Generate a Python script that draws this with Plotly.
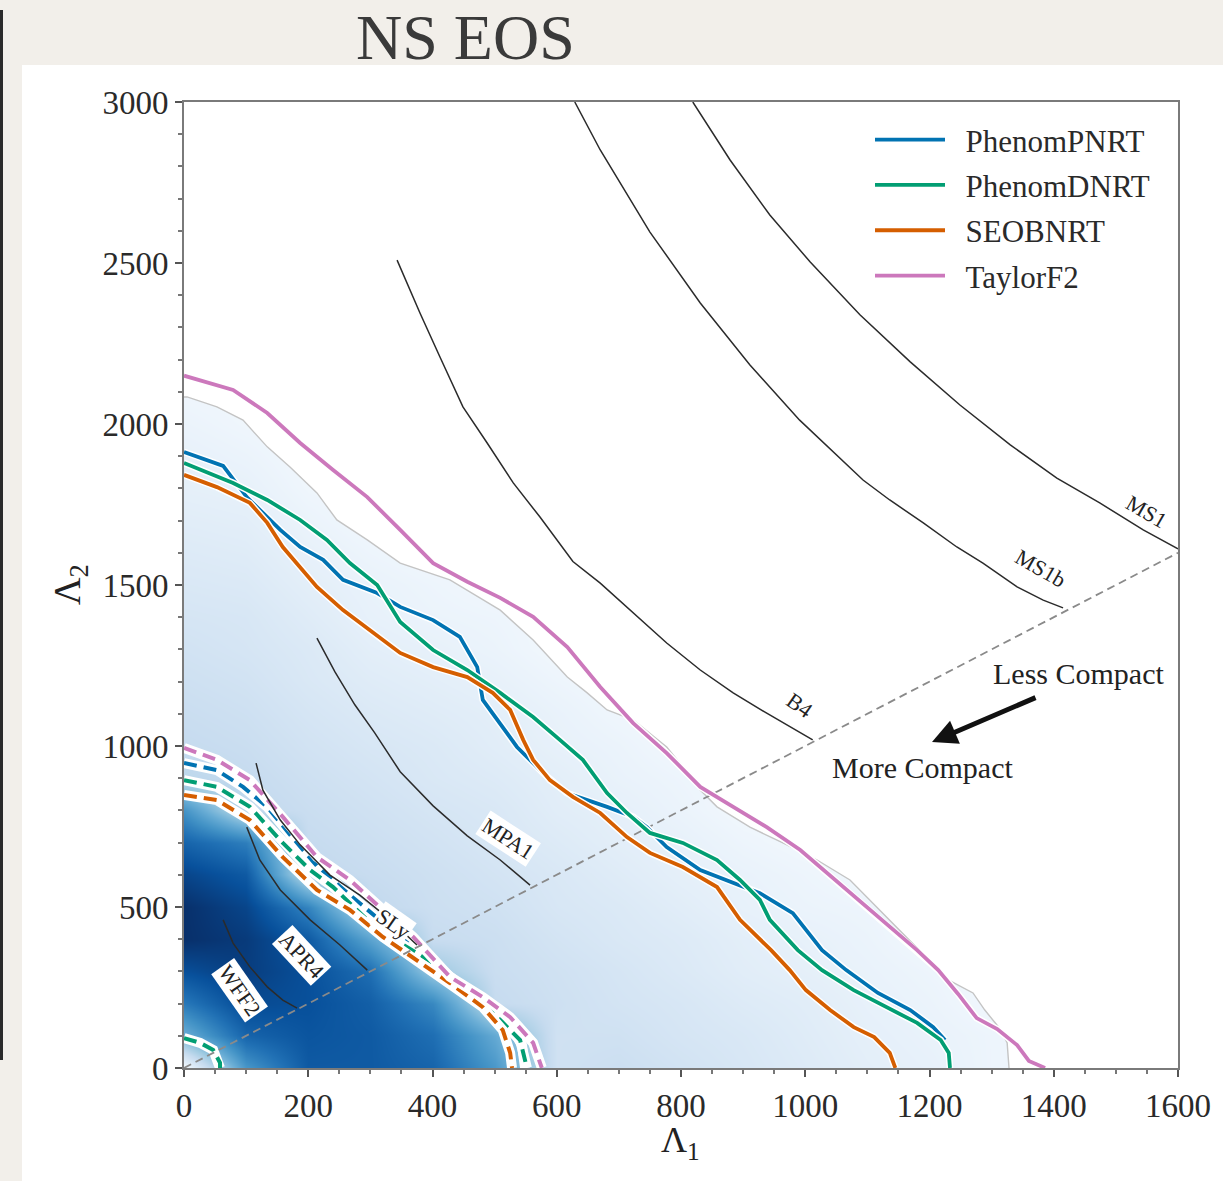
import plotly.graph_objects as go

# ---------------------------------------------------------------- data
# Density grid (posterior, arbitrary 0-100 scale) on Lambda1 x Lambda2
grid_l1 = [0, 100, 200, 300, 400, 500, 600, 700, 800, 900, 1000, 1100, 1200, 1300, 1400, 1500, 1600]
grid_l2 = [0, 100, 200, 300, 400, 500, 600, 700, 800, 900, 1000, 1100,
           1200, 1300, 1400, 1500, 1600, 1700, 1800, 1900, 2000, 2100, 2200]
density_rows = [
    [0, 60, 84, 84, 80, 60, 20, 22, 19, 16, 13, 10, 8, 5, 3, 3, 3],
    [50, 80, 86, 84, 76, 52, 20, 20, 17, 15, 12, 9, 7, 5, 3, 3, 3],
    [72, 90, 88, 82, 66, 25, 21, 18, 16, 13, 11, 8, 6, 3, 3, 3, 3],
    [88, 95, 88, 76, 38, 23, 20, 17, 14, 11, 9, 7, 5, 3, 3, 3, 3],
    [100, 96, 84, 55, 24, 22, 18, 15, 13, 10, 8, 6, 3, 3, 3, 3, 3],
    [100, 92, 68, 27, 22, 20, 16, 14, 11, 8, 6, 5, 3, 3, 3, 3, 3],
    [92, 84, 27, 24, 21, 18, 15, 12, 9, 7, 5, 3, 3, 3, 3, 3, 3],
    [80, 70, 25, 22, 19, 16, 13, 10, 8, 5, 3, 3, 3, 3, 3, 3, 3],
    [62, 27, 23, 20, 17, 15, 11, 9, 6, 3, 3, 3, 3, 3, 3, 3, 3],
    [28, 25, 21, 18, 15, 13, 10, 7, 5, 3, 3, 3, 3, 3, 3, 3, 3],
    [25, 23, 19, 16, 14, 11, 8, 6, 3, 3, 3, 3, 3, 3, 3, 3, 3],
    [23, 21, 17, 14, 12, 10, 7, 4, 3, 3, 3, 3, 3, 3, 3, 3, 3],
    [21, 19, 15, 12, 10, 8, 5, 3, 3, 3, 3, 3, 3, 3, 3, 3, 3],
    [19, 17, 14, 10, 8, 6, 3, 3, 3, 3, 3, 3, 3, 3, 3, 3, 3],
    [17, 16, 12, 8, 6, 5, 3, 3, 3, 3, 3, 3, 3, 3, 3, 3, 3],
    [15, 14, 10, 7, 5, 3, 3, 3, 3, 3, 3, 3, 3, 3, 3, 3, 3],
    [13, 12, 8, 5, 3, 3, 3, 3, 3, 3, 3, 3, 3, 3, 3, 3, 3],
    [11, 10, 6, 3, 3, 3, 3, 3, 3, 3, 3, 3, 3, 3, 3, 3, 3],
    [9, 8, 4, 3, 3, 3, 3, 3, 3, 3, 3, 3, 3, 3, 3, 3, 3],
    [8, 6, 3, 3, 3, 3, 3, 3, 3, 3, 3, 3, 3, 3, 3, 3, 3],
    [6, 4, 3, 3, 3, 3, 3, 3, 3, 3, 3, 3, 3, 3, 3, 3, 3],
    [4, 3, 3, 3, 3, 3, 3, 3, 3, 3, 3, 3, 3, 3, 3, 3, 3],
    [3, 3, 3, 3, 3, 3, 3, 3, 3, 3, 3, 3, 3, 3, 3, 3, 3],
]

# Outer edge of the shaded posterior support
support_l1 = [0, 5, 53, 95, 134, 171, 214, 246, 295, 348, 428, 509, 562, 617, 649, 681, 723,
              777, 803, 831, 858, 911, 964, 1019, 1072, 1231, 1270, 1289, 1315, 1325, 1328]
support_l2 = [2084, 2084, 2053, 2012, 1929, 1866, 1786, 1702, 1640, 1568, 1516, 1422, 1329, 1214,
              1165, 1112, 1081, 997, 935, 863, 811, 748, 699, 646, 584, 273, 233, 180, 118, 78, 0]

# 90% credible contours (solid)
pnrt90_l1 = [0, 63, 101, 155, 187, 224, 256, 311, 348, 401, 444, 472, 481, 536, 578, 616, 681,
             723, 745, 777, 831, 884, 927, 980, 1027, 1066, 1117, 1169, 1206, 1225]
pnrt90_l2 = [1913, 1870, 1773, 1671, 1618, 1578, 1516, 1475, 1432, 1391, 1339, 1245, 1143, 997,
             916, 854, 811, 780, 748, 686, 615, 575, 543, 481, 366, 304, 233, 180, 127, 87]
dnrt90_l1 = [0, 79, 134, 187, 230, 267, 311, 348, 401, 456, 509, 562, 605, 642, 681, 713, 750,
             803, 858, 895, 927, 943, 988, 1027, 1078, 1130, 1180, 1218, 1231, 1233]
dnrt90_l2 = [1879, 1817, 1764, 1702, 1640, 1568, 1500, 1385, 1298, 1236, 1165, 1090, 1019, 957,
             854, 792, 730, 699, 646, 584, 522, 460, 366, 304, 242, 189, 140, 87, 47, 0]
seob90_l1 = [0, 53, 106, 134, 159, 187, 214, 256, 299, 348, 401, 456, 497, 525, 546, 562, 589,
             626, 670, 713, 750, 803, 858, 895, 945, 975, 1001, 1040, 1078, 1111, 1136, 1145]
seob90_l2 = [1842, 1804, 1755, 1693, 1618, 1556, 1494, 1422, 1360, 1289, 1245, 1214, 1165, 1112,
             1019, 957, 894, 842, 792, 717, 668, 624, 562, 460, 366, 304, 242, 180, 127, 96, 47, 0]
tf2_90_l1 = [0, 79, 134, 187, 240, 295, 348, 401, 456, 509, 562, 617, 670, 723, 777, 831, 884,
             938, 992, 1072, 1180, 1214, 1246, 1276, 1309, 1341, 1360, 1386]
tf2_90_l2 = [2150, 2106, 2034, 1941, 1857, 1773, 1671, 1568, 1510, 1460, 1401, 1307, 1183, 1071,
             978, 873, 811, 748, 677, 543, 366, 304, 230, 155, 121, 71, 22, 0]

# 50% credible contours (dashed)
pnrt50_l1 = [0, 53, 95, 134, 171, 214, 267, 320, 369, 428, 481, 525, 544, 549]
pnrt50_l2 = [947, 925, 873, 811, 724, 627, 537, 453, 373, 273, 202, 134, 71, 0]
dnrt50_l1 = [0, 53, 106, 159, 203, 240, 295, 348, 401, 456, 509, 541, 552]
dnrt50_l2 = [894, 873, 811, 699, 615, 562, 460, 388, 326, 242, 149, 87, 0]
dnrt50b_l1 = [0, 26, 47, 58, 58]
dnrt50b_l2 = [93, 78, 56, 16, 0]
seob50_l1 = [0, 53, 106, 159, 214, 267, 320, 375, 428, 481, 513, 525, 528]
seob50_l2 = [848, 832, 770, 655, 553, 491, 407, 335, 264, 189, 118, 47, 0]
tf2_50_l1 = [0, 53, 106, 159, 214, 267, 320, 369, 428, 481, 525, 562, 576]
tf2_50_l2 = [994, 957, 894, 780, 655, 584, 491, 407, 283, 220, 158, 78, 0]

# Equation-of-state tracks
wff2_l1 = [63, 79, 106, 134, 159, 182]
wff2_l2 = [460, 388, 314, 252, 211, 186]
apr4_l1 = [101, 122, 155, 203, 251, 295]
apr4_l2 = [748, 646, 553, 460, 382, 304]
sly_l1 = [116, 127, 155, 187, 235, 283, 332, 375]
sly_l2 = [947, 863, 770, 693, 599, 537, 460, 382]
mpa1_l1 = [214, 243, 275, 307, 348, 401, 456, 509, 557]
mpa1_l2 = [1335, 1230, 1128, 1041, 920, 814, 721, 646, 568]
b4_l1 = [343, 380, 412, 449, 488, 530, 573, 626, 670, 723, 777, 831, 884, 938, 992, 1012]
b4_l2 = [2509, 2344, 2208, 2053, 1941, 1817, 1711, 1573, 1506, 1413, 1320, 1236, 1165, 1102, 1040, 1019]
ms1b_l1 = [629, 670, 750, 831, 911, 991, 1093, 1136, 1190, 1244, 1286, 1341, 1383, 1415]
ms1b_l2 = [3000, 2851, 2596, 2376, 2183, 2012, 1826, 1764, 1693, 1618, 1568, 1494, 1453, 1429]
ms1_l1 = [819, 879, 943, 1008, 1088, 1169, 1249, 1330, 1405, 1474, 1544, 1600]
ms1_l2 = [3000, 2820, 2649, 2503, 2339, 2193, 2059, 1935, 1832, 1755, 1671, 1612]

# Equal-mass line
equal_l1 = [0, 1600]
equal_l2 = [0, 1600]

x_ticks = [0, 200, 400, 600, 800, 1000, 1200, 1400, 1600]
y_ticks = [0, 500, 1000, 1500, 2000, 2500, 3000]

# ---------------------------------------------------------------- style
SERIF = "Liberation Serif"
INK = "#222222"
NBSP = "\u00a0"
BLUE, GREEN, ORANGE, PINK = "#0173b2", "#029e73", "#d55e00", "#cc78bc"
BLUES = [[0.0, "#f7fbff"], [0.125, "#deebf7"], [0.25, "#c6dbef"], [0.375, "#9ecae1"],
         [0.5, "#6baed6"], [0.625, "#4292c6"], [0.75, "#2171b5"], [0.875, "#08519c"],
         [1.0, "#08306b"]]

W, H = 1223, 1181
PX0, PX1, PY0, PY1 = 184, 1178, 102, 1068   # plot box in pixels

fig = go.Figure()

fig.add_trace(go.Heatmap(
    x=grid_l1, y=grid_l2, z=density_rows, zmin=0, zmax=100,
    colorscale=BLUES, zsmooth="best", showscale=False, hoverinfo="skip"))

# blank out everything beyond the support edge
fig.add_trace(go.Scatter(
    x=support_l1 + [1700, 1700, -50, -50], y=support_l2 + [-50, 3100, 3100, 2084],
    fill="toself", fillcolor="white", mode="lines", line=dict(width=0),
    showlegend=False, hoverinfo="skip"))
fig.add_trace(go.Scatter(
    x=support_l1, y=support_l2, mode="lines", line=dict(color="#c4c4c4", width=1.4),
    showlegend=False, hoverinfo="skip"))


def haloed(xs, ys, color, width, dash, halo, name=None):
    fig.add_trace(go.Scatter(x=xs, y=ys, mode="lines",
                             line=dict(color="white", width=width + halo),
                             showlegend=False, hoverinfo="skip"))
    fig.add_trace(go.Scatter(x=xs, y=ys, mode="lines",
                             name=None if name is None else NBSP * 2 + name,
                             line=dict(color=color, width=width, dash=dash),
                             showlegend=name is not None, legendgroup=name or "",
                             hoverinfo="skip"))


# 50% contours
haloed(pnrt50_l1, pnrt50_l2, BLUE, 4, "13px,7px", 6)
haloed(dnrt50_l1, dnrt50_l2, GREEN, 4, "13px,7px", 6)
haloed(dnrt50b_l1, dnrt50b_l2, GREEN, 4, "13px,7px", 6)
haloed(seob50_l1, seob50_l2, ORANGE, 4, "13px,7px", 6)
haloed(tf2_50_l1, tf2_50_l2, PINK, 4, "13px,7px", 6)

# EOS tracks and equal-mass line
for xs, ys in [(wff2_l1, wff2_l2), (apr4_l1, apr4_l2), (sly_l1, sly_l2), (mpa1_l1, mpa1_l2),
               (b4_l1, b4_l2), (ms1b_l1, ms1b_l2), (ms1_l1, ms1_l2)]:
    fig.add_trace(go.Scatter(x=xs, y=ys, mode="lines", line=dict(color="#2b2b2b", width=1.5),
                             showlegend=False, hoverinfo="skip"))
fig.add_trace(go.Scatter(x=equal_l1, y=equal_l2, mode="lines",
                         line=dict(color="#8a8a8a", width=1.8, dash="8px,5px"),
                         showlegend=False, hoverinfo="skip"))

# 90% contours
haloed(pnrt90_l1, pnrt90_l2, BLUE, 3.8, "solid", 3, "PhenomPNRT")
haloed(dnrt90_l1, dnrt90_l2, GREEN, 3.8, "solid", 3, "PhenomDNRT")
haloed(seob90_l1, seob90_l2, ORANGE, 3.8, "solid", 3, "SEOBNRT")
haloed(tf2_90_l1, tf2_90_l2, PINK, 3.8, "solid", 3, "TaylorF2")


def px_x(p):
    return (p - PX0) / (PX1 - PX0) * 1600


def px_y(p):
    return (PY1 - p) / (PY1 - PY0) * 3000


annotations = []
for text, px, py, ang in [("WFF2", 240, 990, 55), ("APR4", 302, 955, 47), ("SLy", 393, 923, 35),
                          ("MPA1", 508, 838, 33), ("B4", 800, 705, 35), ("MS1b", 1041, 568, 30),
                          ("MS1", 1146, 512, 30)]:
    annotations.append(dict(x=px_x(px), y=px_y(py), xref="x", yref="y", text=text,
                            textangle=ang, showarrow=False, bgcolor="white", borderpad=1,
                            xanchor="center", yanchor="middle",
                            font=dict(family=SERIF, size=22, color=INK)))

annotations += [
    dict(x=px_x(1078), y=px_y(673), xref="x", yref="y", text="Less Compact", showarrow=False,
         xanchor="center", yanchor="middle", font=dict(family=SERIF, size=30, color=INK)),
    dict(x=px_x(922), y=px_y(767), xref="x", yref="y", text="More Compact", showarrow=False,
         xanchor="center", yanchor="middle", font=dict(family=SERIF, size=30, color=INK)),
    dict(x=px_x(932), y=px_y(742), xref="x", yref="y", ax=px_x(1037), ay=px_y(697),
         axref="x", ayref="y", text="", showarrow=True, arrowhead=2, arrowsize=1,
         arrowwidth=5, arrowcolor="#111111"),
    dict(x=680 / W, y=1 - 1142 / H, xref="paper", yref="paper", text="Λ<sub>1</sub>",
         xanchor="center", yanchor="middle", showarrow=False,
         font=dict(family=SERIF, size=36, color=INK)),
    dict(x=70 / W, y=1 - 585 / H, xref="paper", yref="paper", text="Λ<sub>2</sub>",
         textangle=-90, xanchor="center", yanchor="middle", showarrow=False,
         font=dict(family=SERIF, size=38, color=INK)),
    dict(x=465 / W, y=1 - 38 / H, xref="paper", yref="paper", text="NS EOS",
         xanchor="center", yanchor="middle", showarrow=False,
         font=dict(family=SERIF, size=64, color="#3a3a3a")),
]

axis_common = dict(showline=True, linecolor="#7a7a7a", linewidth=2, mirror=True,
                   ticks="outside", ticklen=7, tickwidth=1.5, tickcolor="#555555",
                   showgrid=False, zeroline=False, automargin=False,
                   tickfont=dict(family=SERIF, size=33, color="#2a2a2a"))

fig.update_layout(
    width=W, height=H, autosize=False,
    margin=dict(l=0, r=0, t=0, b=0, pad=0),
    paper_bgcolor="#f2efea", plot_bgcolor="white",
    xaxis=dict(range=[0, 1600], domain=[PX0 / W, PX1 / W], tickvals=x_ticks,
               minor=dict(dtick=50, ticks="outside", ticklen=4, tickcolor="#777777"),
               **axis_common),
    yaxis=dict(range=[0, 3000], domain=[1 - PY1 / H, 1 - PY0 / H], tickvals=y_ticks,
               minor=dict(dtick=100, ticks="outside", ticklen=4, tickcolor="#777777"),
               **axis_common),
    legend=dict(x=870 / W, y=1 - 113 / H, xanchor="left", yanchor="top",
                bgcolor="rgba(0,0,0,0)", itemwidth=70, tracegroupgap=2,
                font=dict(family=SERIF, size=31, color="#2a2a2a")),
    annotations=annotations,
    shapes=[
        dict(type="rect", xref="paper", yref="paper", x0=22 / W, x1=1.0, y0=0, y1=1 - 65 / H,
             fillcolor="white", line=dict(width=0), layer="below"),
        dict(type="line", xref="paper", yref="paper", x0=1.5 / W, x1=1.5 / W,
             y0=1 - 1060 / H, y1=1 - 10 / H, line=dict(color="#2a2a2a", width=3),
             layer="above"),
    ],
)

fig.write_html("out.html")
